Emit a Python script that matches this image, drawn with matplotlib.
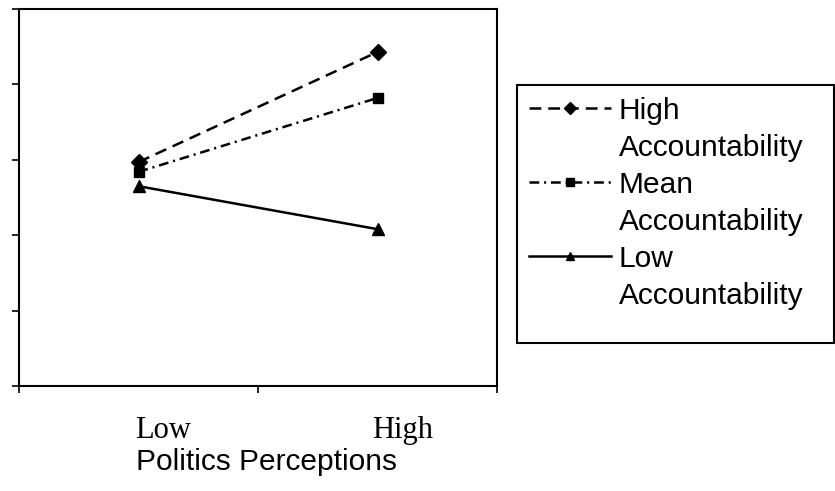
import matplotlib
matplotlib.use("Agg")
import matplotlib.pyplot as plt
from matplotlib.lines import Line2D
from matplotlib.patches import Rectangle
import matplotlib.transforms as mtransforms

plt.rcParams['lines.scale_dashes'] = False

# ---- data ----
categories = ["Low", "High"]
cat_pos = [0.5, 1.5]
high_acc = [2.97, 4.43]
mean_acc = [2.84, 3.82]
low_acc = [2.65, 2.08]
series_names = [("High", "Accountability"), ("Mean", "Accountability"), ("Low", "Accountability")]
xlabel = "Politics Perceptions"

fig = plt.figure(figsize=(8.35, 4.91), dpi=100)
ax = fig.add_axes([19/835, 1-386/491, (497-19)/835, (386-9)/491])

l1, = ax.plot(cat_pos, high_acc, color='black', lw=1.8, marker='D', ms=8,
              dashes=(8.5, 5))
l2, = ax.plot(cat_pos, mean_acc, color='black', lw=1.8, marker='s', ms=7.5,
              dashes=(7, 3.5, 1.5, 3.5))
l3, = ax.plot(cat_pos, low_acc, color='black', lw=1.8, marker='^', ms=9,
              linestyle='-')

ax.set_xlim(0, 2)
ax.set_ylim(0, 5)
ax.set_xticks([0, 1, 2])
ax.set_yticks([0, 1, 2, 3, 4, 5])
ax.set_xticklabels([])
ax.set_yticklabels([])
ax.tick_params(direction='out', length=5, width=1.2, colors='black')
for s in ax.spines.values():
    s.set_linewidth(1.5)
    s.set_color('black')

# category labels (serif), slightly right of the category centres
off = mtransforms.offset_copy(ax.get_xaxis_transform(), fig=fig, x=18, y=0, units='points')
for p, c in zip(cat_pos, categories):
    ax.text(p, -0.118, c, transform=off, ha='center', va='center',
            family='Liberation Serif', fontsize=22, clip_on=False)

fig.text(266/835, 1-462/491, xlabel, ha='center', va='center',
         family='Liberation Sans', fontsize=21.5)

# legend: first line of each label beside the handle, second line without handle
blank = Line2D([], [], linestyle='none')
handles = [l1, blank, l2, blank, l3, blank]
labels = [series_names[0][0], series_names[0][1],
          series_names[1][0], series_names[1][1],
          series_names[2][0], series_names[2][1]]
leg = fig.legend(handles, labels, loc='upper left',
                 bbox_to_anchor=(517/835, 1-343/491, (834-517)/835, (343-85)/491),
                 mode='expand',
                 prop={'family': 'Liberation Sans', 'size': 21.5},
                 numpoints=1, handlelength=2.75, handletextpad=0.25,
                 labelspacing=0.3, borderpad=0.4, borderaxespad=0,
                 frameon=False)
for lh in leg.legend_handles:
    if lh is not None and lh.get_marker() not in (None, 'None', ''):
        lh.set_markersize(6)

# legend frame
fig.patches.append(Rectangle((517/835, 1-343/491), (834-517)/835, (343-85)/491,
                             transform=fig.transFigure, fill=False,
                             edgecolor='black', linewidth=1.5))

fig.savefig("out.png", dpi=100)
